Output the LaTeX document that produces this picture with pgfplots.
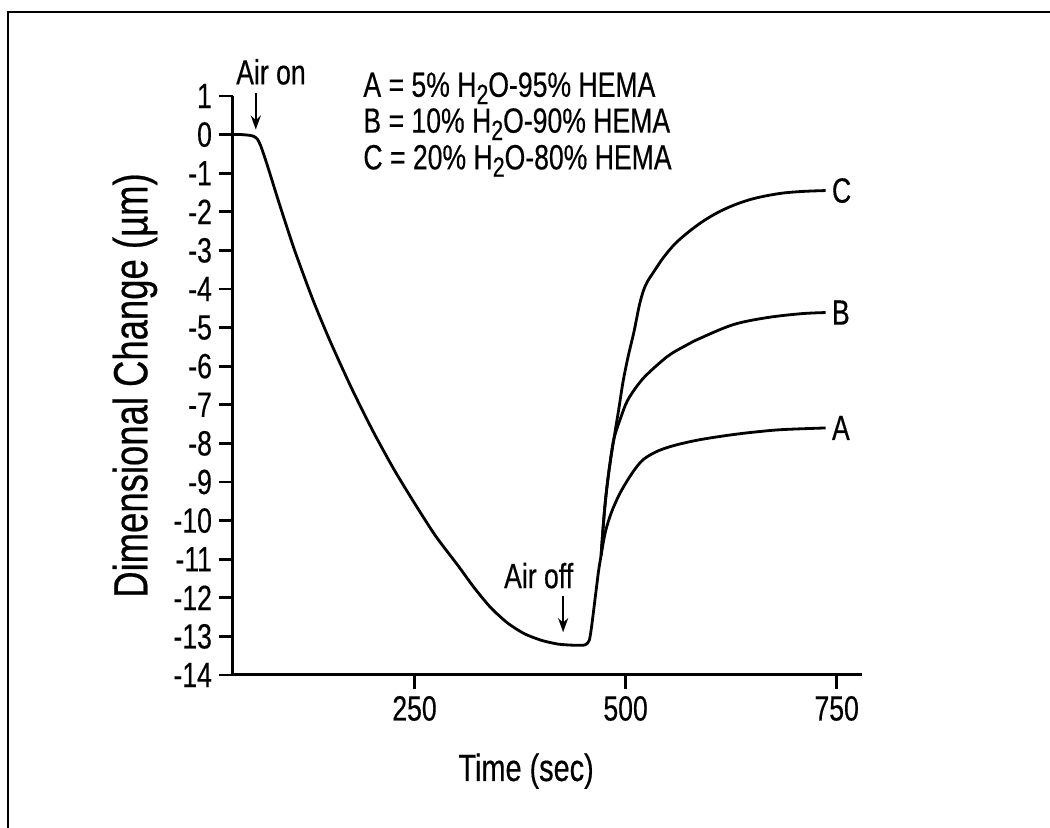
\documentclass[border=0pt]{standalone}
\usepackage{pgfplots}
\pgfplotsset{compat=1.18}
\usepackage{fontspec}
\setmainfont{Liberation Sans}[FakeStretch=0.76, FakeBold=0.4]
\usetikzlibrary{arrows.meta}
\newcommand\fs{\fontsize{17.5pt}{21pt}\selectfont}
\newcommand\sub[1]{\raisebox{-0.4ex}{\fontsize{14pt}{14pt}\selectfont #1}}

\pgfplotstableread{
x y
35 0
45 0
55 -0.02
60 -0.05
64 -0.12
68 -0.3
75 -0.75
90 -1.8
108 -3.0
130 -4.3
150 -5.35
175 -6.55
200 -7.65
225 -8.65
250 -9.55
275 -10.4
302 -11.18
320 -11.72
340 -12.25
360 -12.65
380 -12.93
400 -13.1
420 -13.2
440 -13.23
452 -13.22
457 -13.1
460 -12.7
464 -12.0
468 -11.3
471 -10.9
}\common

\pgfplotstableread{
x y
471 -10.9
476 -10.3
483 -9.8
492 -9.35
501 -9.0
510 -8.7
518 -8.48
526 -8.34
540 -8.18
560 -8.04
589 -7.9
628 -7.77
660 -7.69
688 -7.64
737 -7.6
}\seriesA

\pgfplotstableread{
x y
471 -10.9
474 -10.0
477 -9.3
481 -8.6
486 -7.9
494 -7.35
502 -6.9
514 -6.5
526 -6.2
550 -5.74
570 -5.48
589 -5.27
628 -4.92
668 -4.74
708 -4.64
737 -4.61
}\seriesB

\pgfplotstableread{
x y
471 -10.9
474 -10.0
477 -9.3
481 -8.6
486 -7.9
492 -7.1
497 -6.4
503 -5.75
510 -5.1
516 -4.45
521 -4.05
526 -3.8
532 -3.6
538 -3.4
545 -3.18
558 -2.84
573 -2.55
590 -2.27
609 -2.02
628 -1.83
648 -1.68
668 -1.58
688 -1.51
712 -1.47
737 -1.45
}\seriesC

\begin{document}
\begin{tikzpicture}
\useasboundingbox (0,0) rectangle (525pt,414pt);
\draw[line width=1.2pt] (4pt,0) -- (4pt,408pt) -- (525pt,408pt);
\begin{axis}[
  at={(116.5pt,76.5pt)}, anchor=south west,
  scale only axis, width=314.5pt, height=289.5pt,
  xmin=35, xmax=780, ymin=-14, ymax=1,
  axis x line=bottom, axis y line=left,
  axis line style={line width=1.5pt, -},
  xtick={250,500,750}, xticklabels={250,500,750},
  ytick={-14,-13,...,1},
  yticklabels={-14,-13,-12,-11,-10,-9,-8,-7,-6,-5,-4,-3,-2,-1,0,1},
  tick align=outside, major tick length=7pt,
  tick style={line width=1.4pt, black},
  ticklabel style={font=\fs},
  /pgf/number format/assume math mode=true,
  xlabel={Time (sec)},
  ylabel={Dimensional Change (µm)},
  xlabel style={at={(axis description cs:0.466,0)}, anchor=base, yshift=-53pt, font=\fontsize{19pt}{22pt}\selectfont},
  ylabel style={at={(axis description cs:-0.156,0.5)}, anchor=center, font=\fontsize{24pt}{28pt}\selectfont},
  clip=false,
]
\addplot[black, line width=1.4pt, smooth, tension=0.4] table[x=x,y=y] {\common};
\addplot[black, line width=1.4pt, smooth, tension=0.55] table[x=x,y=y] {\seriesA};
\addplot[black, line width=1.4pt, smooth, tension=0.55] table[x=x,y=y] {\seriesB};
\addplot[black, line width=1.4pt, smooth, tension=0.55] table[x=x,y=y] {\seriesC};

\node[font=\fs, anchor=base] at (axis cs:80,1.3) {Air on};
\draw[line width=1.2pt, -{Stealth[length=7pt,width=5pt]}] (axis cs:62,1.09) -- (axis cs:62,0.13);
\node[font=\fs, anchor=base] at (axis cs:397,-11.75) {Air off};
\draw[line width=1.2pt, -{Stealth[length=7pt,width=5pt]}] (axis cs:426,-11.96) -- (axis cs:426,-12.89);

\node[font=\fs, anchor=base west, inner sep=0pt] at (axis cs:189,0.98) {A = 5\% H\sub{2}O-95\% HEMA};
\node[font=\fs, anchor=base west, inner sep=0pt] at (axis cs:189,0.05) {B = 10\% H\sub{2}O-90\% HEMA};
\node[font=\fs, anchor=base west, inner sep=0pt] at (axis cs:189,-0.9) {C = 20\% H\sub{2}O-80\% HEMA};

\node[font=\fs, anchor=west, inner sep=0pt] at (axis cs:744,-1.45) {C};
\node[font=\fs, anchor=west, inner sep=0pt] at (axis cs:744,-4.61) {B};
\node[font=\fs, anchor=west, inner sep=0pt] at (axis cs:744,-7.6) {A};
\end{axis}
\end{tikzpicture}
\end{document}
